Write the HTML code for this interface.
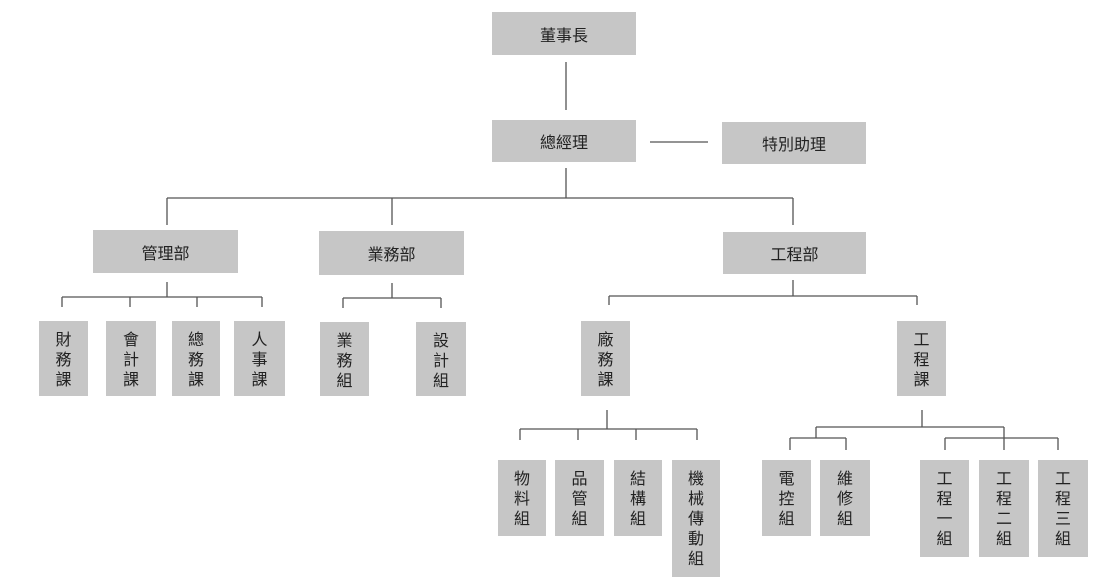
<!DOCTYPE html>
<html><head><meta charset="utf-8"><style>
body{margin:0;width:1120px;height:586px;background:#fff;position:relative;overflow:hidden;font-family:"Liberation Sans","Noto Sans CJK TC",sans-serif;color:#222}
.b{position:absolute;background:#c6c6c6;display:flex;align-items:center;justify-content:center;font-size:16px}
.v{position:absolute;background:#c6c6c6;display:flex;justify-content:center;font-size:16px;line-height:20px;text-align:center;padding-top:10px;box-sizing:border-box}
svg{position:absolute;left:0;top:0}
</style></head><body>
<svg width="1120" height="586" stroke="#555" stroke-width="1.3" fill="none">
<path d="M566 62V110M566 168V198M650 142H708M167 198H793M167 198V225M392 198V225M793 198V225"/>
<path d="M167 282V297M62 297H262M62 297V307M130 297V307M197 297V307M262 297V307"/>
<path d="M392 283V298M343 298H441M343 298V308M441 298V308"/>
<path d="M793 280V296M609 296H917M609 296V305M917 296V305"/>
<path d="M607 410V429M520 429H697M520 429V440M578 429V440M636 429V440M697 429V440"/>
<path d="M922 410V427M816 427H1004M816 427V438M790 438H846M790 438V450M846 438V450M1004 427V450M945 438H1058M945 438V450M1058 438V450"/>
</svg>
<div class="b" style="left:492px;top:12px;width:144px;height:43px">董事長</div>
<div class="b" style="left:492px;top:120px;width:144px;height:42px">總經理</div>
<div class="b" style="left:722px;top:122px;width:144px;height:42px">特別助理</div>
<div class="b" style="left:93px;top:230px;width:145px;height:43px">管理部</div>
<div class="b" style="left:319px;top:231px;width:145px;height:44px">業務部</div>
<div class="b" style="left:723px;top:232px;width:143px;height:42px">工程部</div>
<div class="v" style="left:39px;top:321px;width:49px;height:75px">財<br>務<br>課</div>
<div class="v" style="left:106px;top:321px;width:50px;height:75px">會<br>計<br>課</div>
<div class="v" style="left:172px;top:321px;width:48px;height:75px">總<br>務<br>課</div>
<div class="v" style="left:234px;top:321px;width:51px;height:75px">人<br>事<br>課</div>
<div class="v" style="left:320px;top:322px;width:49px;height:74px">業<br>務<br>組</div>
<div class="v" style="left:416px;top:322px;width:50px;height:74px">設<br>計<br>組</div>
<div class="v" style="left:581px;top:321px;width:49px;height:75px">廠<br>務<br>課</div>
<div class="v" style="left:897px;top:321px;width:49px;height:75px">工<br>程<br>課</div>
<div class="v" style="left:498px;top:460px;width:48px;height:76px">物<br>料<br>組</div>
<div class="v" style="left:555px;top:460px;width:49px;height:76px">品<br>管<br>組</div>
<div class="v" style="left:614px;top:460px;width:48px;height:76px">結<br>構<br>組</div>
<div class="v" style="left:672px;top:460px;width:48px;height:117px">機<br>械<br>傳<br>動<br>組</div>
<div class="v" style="left:762px;top:460px;width:49px;height:76px">電<br>控<br>組</div>
<div class="v" style="left:820px;top:460px;width:50px;height:76px">維<br>修<br>組</div>
<div class="v" style="left:920px;top:460px;width:49px;height:97px">工<br>程<br>一<br>組</div>
<div class="v" style="left:979px;top:460px;width:50px;height:97px">工<br>程<br>二<br>組</div>
<div class="v" style="left:1038px;top:460px;width:50px;height:97px">工<br>程<br>三<br>組</div>
</body></html>
